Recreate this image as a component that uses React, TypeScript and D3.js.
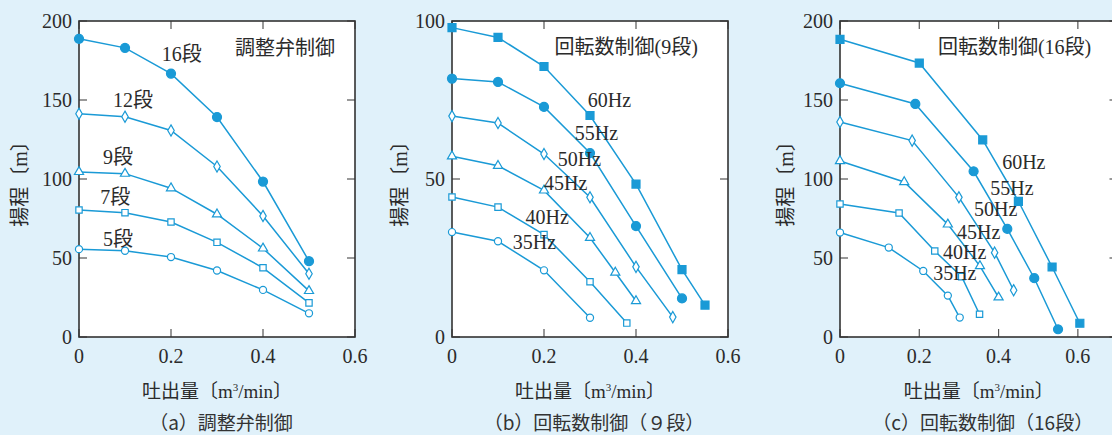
import { useEffect, useRef } from 'react'
import * as d3 from 'd3'

const BLUE = '#1a9ad6'
const INK = '#2b2b2b'
const BG = '#e0f1fa'
const SERIF = "'Liberation Serif', 'Noto Sans CJK JP', serif"
const GOTHIC = "'Noto Sans CJK JP', sans-serif"

// (a) 調整弁制御 : 吐出量 vs 揚程, per stage count
const flowA = [0, 0.1, 0.2, 0.3, 0.4, 0.5]
const head16 = [188.7, 183, 166.7, 139.2, 98.4, 48]
const head12 = [141.3, 139.4, 130.7, 107.9, 76.6, 40]
const head9 = [104.5, 103.4, 94.2, 77.7, 56.1, 29.2]
const head7 = [80.4, 78.7, 72.8, 59.9, 43.8, 21.6]
const head5 = [55.6, 54.6, 50.6, 42.1, 29.8, 15]

// (b) 回転数制御(9段) : [q, H] per frequency
const b60 = [[0, 97.9], [0.1, 94.8], [0.2, 85.6], [0.3, 70.1], [0.4, 48.4], [0.5, 21.3], [0.55, 10.1]]
const b55 = [[0, 81.8], [0.1, 80.7], [0.2, 72.8], [0.3, 58.2], [0.4, 35.1], [0.5, 12.2]]
const b50 = [[0, 69.9], [0.1, 67.7], [0.2, 57.9], [0.3, 44.2], [0.4, 22.2], [0.48, 6.3]]
const b45 = [[0, 57.2], [0.1, 54.2], [0.2, 46.4], [0.3, 31.4], [0.355, 20.4], [0.4, 11.4]]
const b40 = [[0, 44.3], [0.1, 41.1], [0.2, 32.4], [0.3, 17.5], [0.38, 4.4]]
const b35 = [[0, 33.2], [0.1, 30.3], [0.2, 21.1], [0.3, 6.1]]

// (c) 回転数制御(16段)
const c60 = [[0, 188.4], [0.2, 173.4], [0.36, 124.7], [0.45, 85.9], [0.535, 44.3], [0.605, 8.7]]
const c55 = [[0, 160.6], [0.19, 147.5], [0.337, 104.9], [0.422, 68.4], [0.49, 37.2], [0.55, 4.9]]
const c50 = [[0, 136.1], [0.182, 124.3], [0.3, 88.4], [0.39, 53.4], [0.438, 29.6]]
const c45 = [[0, 111.4], [0.162, 98.1], [0.272, 71.3], [0.353, 44.9], [0.4, 25.1]]
const c40 = [[0, 84.2], [0.149, 78.5], [0.239, 54.4], [0.307, 38.2], [0.352, 14.4]]
const c35 = [[0, 66.1], [0.123, 56.6], [0.21, 41.8], [0.272, 26.2], [0.302, 12.3]]

const freqs = ['60Hz', '55Hz', '50Hz', '45Hz', '40Hz', '35Hz']
const stages = ['16段', '12段', '9段', '7段', '5段']

// marker kinds, top curve first
const markersA = ['dot', 'diamond', 'triangle', 'square', 'circle']
const markersB = ['block', 'dot', 'diamond', 'triangle', 'square', 'circle']

const seriesA = [head16, head12, head9, head7, head5].map(h => h.map((v, i) => [flowA[i], v]))

const panels = [
    {
        left: 79, width: 276, xMax: 0.6, yMax: 200, yTicks: [0, 50, 100, 150, 200],
        series: seriesA, markers: markersA,
        names: stages,
        namePos: [[0.18, 178.8], [0.074, 150], [0.052, 114], [0.046, 88.7], [0.052, 62]],
        title: '調整弁制御', titlePos: [0.339, 183],
        caption: '（a）調整弁制御', ylx: 20,
    },
    {
        left: 452, width: 276, xMax: 0.6, yMax: 100, yTicks: [0, 50, 100],
        series: [b60, b55, b50, b45, b40, b35], markers: markersB,
        names: freqs,
        namePos: [[0.295, 74.9], [0.267, 64.5], [0.23, 56.2], [0.2, 48.6], [0.16, 37.9], [0.132, 30]],
        title: '回転数制御(9段)', titlePos: [0.223, 91.7],
        caption: '（b）回転数制御（９段）', ylx: 400,
    },
    {
        left: 840, width: 277.5, xMax: 0.7, yMax: 200, yTicks: [0, 50, 100, 150, 200],
        series: [c60, c55, c50, c45, c40, c35], markers: markersB,
        names: freqs,
        namePos: [[0.409, 110.6], [0.379, 94.1], [0.338, 80.8], [0.295, 66.3], [0.26, 53.6], [0.235, 40.3]],
        title: '回転数制御(16段)', titlePos: [0.247, 183.4],
        caption: '（c）回転数制御（16段）', ylx: 786,
    },
]

const TOP = 21
const BOTTOM = 337

export default function App() {
    const svgRef = useRef(null)

    useEffect(() => {
        const svg = d3.select(svgRef.current)
        svg.selectAll('*').remove()

        svg.append('rect').attr('width', 1112).attr('height', 435).attr('fill', BG)

        panels.forEach(p => {
            const x = d3.scaleLinear().domain([0, p.xMax]).range([p.left, p.left + p.width])
            const y = d3.scaleLinear().domain([0, p.yMax]).range([BOTTOM, TOP])
            const g = svg.append('g')

            g.append('rect')
                .attr('x', p.left).attr('y', TOP)
                .attr('width', p.width).attr('height', BOTTOM - TOP)
                .attr('fill', '#fff')

            // ticks, inward on all sides
            const xTicks = d3.range(0, p.xMax + 0.001, 0.2)
            xTicks.forEach(t => {
                g.append('line').attr('x1', x(t)).attr('x2', x(t)).attr('y1', BOTTOM).attr('y2', BOTTOM - 8)
                    .attr('stroke', '#555').attr('stroke-width', 1.2)
                g.append('line').attr('x1', x(t)).attr('x2', x(t)).attr('y1', TOP).attr('y2', TOP + 8)
                    .attr('stroke', '#555').attr('stroke-width', 1.2)
                g.append('text')
                    .attr('x', x(t)).attr('y', 363)
                    .attr('text-anchor', 'middle')
                    .attr('font-family', SERIF).attr('font-size', 20).attr('fill', INK)
                    .text(t === 0 ? '0' : d3.format('.1f')(t))
            })
            p.yTicks.forEach(t => {
                g.append('line').attr('x1', p.left).attr('x2', p.left + 8).attr('y1', y(t)).attr('y2', y(t))
                    .attr('stroke', '#555').attr('stroke-width', 1.2)
                g.append('line').attr('x1', p.left + p.width).attr('x2', p.left + p.width - 8).attr('y1', y(t)).attr('y2', y(t))
                    .attr('stroke', '#555').attr('stroke-width', 1.2)
                g.append('text')
                    .attr('x', p.left - 7).attr('y', y(t))
                    .attr('dy', '0.35em')
                    .attr('text-anchor', 'end')
                    .attr('font-family', SERIF).attr('font-size', 20).attr('fill', INK)
                    .text(t)
            })

            g.append('rect')
                .attr('x', p.left).attr('y', TOP)
                .attr('width', p.width).attr('height', BOTTOM - TOP)
                .attr('fill', 'none').attr('stroke', '#333').attr('stroke-width', 1.6)

            const line = d3.line().x(d => x(d[0])).y(d => y(d[1]))

            p.series.forEach((pts, si) => {
                g.append('path')
                    .attr('d', line(pts))
                    .attr('fill', 'none')
                    .attr('stroke', BLUE)
                    .attr('stroke-width', 1.5)

                const kind = p.markers[si]
                const shape = {
                    dot: [d3.symbolCircle, 64],
                    block: [d3.symbolSquare, 64],
                    diamond: [d3.symbolDiamond, 36],
                    triangle: [d3.symbolTriangle, 36],
                    square: [d3.symbolSquare, 40],
                    circle: [d3.symbolCircle, 40],
                }[kind]
                const filled = kind === 'dot' || kind === 'block'
                const sym = d3.symbol().type(shape[0]).size(shape[1])

                g.selectAll(null)
                    .data(pts)
                    .enter().append('path')
                    .attr('transform', d => `translate(${x(d[0])},${y(d[1])})`)
                    .attr('d', sym)
                    .attr('fill', filled ? BLUE : '#fff')
                    .attr('stroke', BLUE)
                    .attr('stroke-width', 1.2)
            })

            // curve names
            p.names.forEach((n, i) => {
                g.append('text')
                    .attr('x', x(p.namePos[i][0])).attr('y', y(p.namePos[i][1]))
                    .attr('dy', '0.35em')
                    .attr('font-family', SERIF).attr('font-size', 20).attr('fill', INK)
                    .text(n)
            })

            g.append('text')
                .attr('x', x(p.titlePos[0])).attr('y', y(p.titlePos[1]))
                .attr('dy', '0.35em')
                .attr('font-family', SERIF).attr('font-size', 20).attr('fill', INK)
                .text(p.title)

            // axis titles
            const xt = g.append('text')
                .attr('x', p.left + p.width / 2).attr('y', 398)
                .attr('text-anchor', 'middle')
                .attr('font-family', SERIF).attr('font-size', 19).attr('fill', INK)
            xt.append('tspan').text('吐出量〔m')
            xt.append('tspan').attr('font-size', 11).attr('dy', -7).text('3')
            xt.append('tspan').attr('dy', 7).text('/min〕')

            g.append('text')
                .attr('transform', `translate(${p.ylx},${(TOP + BOTTOM) / 2}) rotate(-90)`)
                .attr('text-anchor', 'middle')
                .attr('dy', '0.35em')
                .attr('font-family', SERIF).attr('font-size', 20).attr('fill', INK)
                .text('揚程〔m〕')

            g.append('text')
                .attr('x', p.left + p.width / 2 + 4).attr('y', 430)
                .attr('text-anchor', 'middle')
                .attr('font-family', GOTHIC).attr('font-size', 19).attr('font-weight', 400)
                .attr('fill', '#333')
                .text(p.caption)
        })
    }, [])

    return (
        <div style={{ position: 'absolute', left: 0, top: 0 }}>
            <svg ref={svgRef} width={1112} height={435} style={{ display: 'block' }} />
        </div>
    )
}
